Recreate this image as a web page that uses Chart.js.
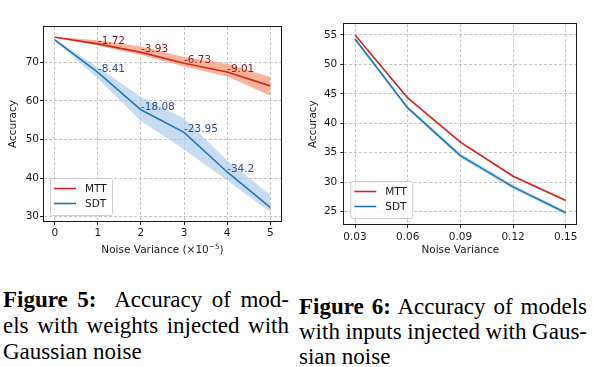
<!DOCTYPE html>
<html>
<head>
<meta charset="utf-8">
<script src="https://cdn.jsdelivr.net/npm/chart.js@4.4.1/dist/chart.umd.min.js"></script>
<style>
  html, body { margin: 0; padding: 0; background: #fff; }
  body { width: 603px; height: 367px; position: relative; overflow: hidden; }
  .plot { position: absolute; top: 0; }
  .cap {
    position: absolute;
    font-family: "Liberation Serif", "Times New Roman", serif;
    font-size: 23px;
    color: #000;
  }
  .cap div { white-space: nowrap; }
  .cap .j { text-align: justify; text-align-last: justify; }
  .cap .tight { word-spacing: -3px; }
  .cap b { font-weight: bold; }
</style>
</head>
<body>
<div class="plot" style="left:0;width:300px;height:265px"><canvas id="weightChart" width="300" height="265"></canvas></div>
<div class="plot" style="left:300px;width:303px;height:265px"><canvas id="inputChart" width="303" height="265"></canvas></div>

<div class="cap" style="left:3px;top:287px;width:286px;line-height:26px">
  <div class="j"><b>Figure 5:</b>&nbsp; Accuracy of mod-</div>
  <div class="j">els with weights injected with</div>
  <div>Gaussian noise</div>
</div>
<div class="cap" style="left:299px;top:294px;width:288px;line-height:25px">
  <div class="j"><b>Figure 6:</b> Accuracy of models</div>
  <div class="j tight">with inputs injected with Gaus-</div>
  <div>sian noise</div>
</div>

<script>
// Figure 5: noise on weights
const weightNoise = [0, 1, 2, 3, 4, 5];
const mttWeight = [76.5, 74.78, 72.57, 69.77, 67.49, 63.9];
const mttWeightHi = [76.6, 75.7, 74.1, 71.4, 69.6, 66.2];
const mttWeightLo = [76.4, 74.3, 71.9, 68.9, 66.3, 61.4];
const sdtWeight = [75.8, 67.39, 57.72, 51.85, 41.6, 32.4];
const sdtWeightHi = [76.0, 68.8, 61.0, 55.5, 44.6, 35.7];
const sdtWeightLo = [75.6, 65.8, 54.8, 47.4, 39.4, 31.2];
const mttDrops = ["", "-1.72", "-3.93", "-6.73", "-9.01", ""];
const sdtDrops = ["", "-8.41", "-18.08", "-23.95", "-34.2", ""];
const weightYTicks = [30, 40, 50, 60, 70];

// Figure 6: noise on inputs
const inputNoise = [0.03, 0.06, 0.09, 0.12, 0.15];
const mttInput = [55.0, 44.3, 36.8, 31.0, 26.9];
const mttInputHi = [55.2, 44.5, 37.0, 31.2, 27.1];
const mttInputLo = [54.8, 44.1, 36.6, 30.8, 26.7];
const sdtInput = [54.3, 42.6, 34.5, 29.2, 24.8];
const sdtInputHi = [54.6, 42.9, 34.9, 29.6, 25.1];
const sdtInputLo = [54.0, 42.3, 34.1, 28.8, 24.5];
const inputYTicks = [25, 30, 35, 40, 45, 50, 55];

const RED = "#d62728";
const BLUE = "#1f77b4";
const FONT = "'DejaVu Sans', sans-serif";
const FSIZE = 10.5;
const INK = "#1a1a1a";

const xy = (xs, ys) => xs.map((x, i) => ({ x, y: ys[i] }));

function seriesSets(xs, mtt, mttHi, mttLo, sdt, sdtHi, sdtLo, mttBand, sdtBand) {
  const line = (label, data, color) => ({
    label, data: xy(xs, data), borderColor: color, borderWidth: 1.6,
    pointRadius: 0, fill: false, tension: 0,
  });
  const band = (data, color, fill) => ({
    data: xy(xs, data), borderWidth: 0, pointRadius: 0, borderColor: "transparent",
    backgroundColor: color, fill, tension: 0,
  });
  return [
    line("SDT", sdt, BLUE),
    line("MTT", mtt, RED),
    band(sdtHi, sdtBand, "+1"),
    band(sdtLo, sdtBand, false),
    band(mttHi, mttBand, "+1"),
    band(mttLo, mttBand, false),
  ];
}

// box round the plot area
const framePlugin = {
  id: "frame",
  afterDatasetsDraw(chart) {
    const { ctx, chartArea: a } = chart;
    ctx.save();
    ctx.strokeStyle = INK;
    ctx.lineWidth = 1;
    ctx.strokeRect(Math.round(a.left) - 0.5, Math.round(a.top) - 0.5,
      Math.round(a.right - a.left) + 1, Math.round(a.bottom - a.top) + 1);
    ctx.restore();
  },
};

// legend inside the lower left corner, like matplotlib
const boxLegend = {
  id: "boxLegend",
  afterDraw(chart) {
    const { ctx, chartArea: a } = chart;
    const items = [["MTT", RED], ["SDT", BLUE]];
    const x = a.left + 6, w = 62, h = 37, y = a.bottom - 6 - h;
    ctx.save();
    ctx.fillStyle = "rgba(255,255,255,0.8)";
    ctx.strokeStyle = "#cccccc";
    ctx.lineWidth = 1;
    ctx.beginPath();
    ctx.roundRect(x + 0.5, y + 0.5, w, h, 2);
    ctx.fill();
    ctx.stroke();
    ctx.font = `${FSIZE}px ${FONT}`;
    ctx.textBaseline = "middle";
    items.forEach(([label, color], i) => {
      const cy = y + 10.5 + i * 15;
      ctx.strokeStyle = color;
      ctx.lineWidth = 1.6;
      ctx.beginPath();
      ctx.moveTo(x + 4, cy);
      ctx.lineTo(x + 26, cy);
      ctx.stroke();
      ctx.fillStyle = INK;
      ctx.fillText(label, x + 35, cy + 0.5);
    });
    ctx.restore();
  },
};

// accuracy drop labels next to the points
const dropLabels = {
  id: "dropLabels",
  afterDatasetsDraw(chart, args, opts) {
    if (!opts.sets) return;
    const { ctx, scales } = chart;
    ctx.save();
    ctx.font = `${FSIZE}px ${FONT}`;
    ctx.textAlign = "left";
    ctx.textBaseline = "alphabetic";
    opts.sets.forEach(({ xs, ys, labels, color }) => {
      ctx.fillStyle = color;
      labels.forEach((t, i) => {
        if (!t) return;
        ctx.fillText(t, scales.x.getPixelForValue(xs[i]), scales.y.getPixelForValue(ys[i]));
      });
    });
    ctx.restore();
  },
};

// x title with a real superscript exponent (matplotlib mathtext look)
const expTitle = {
  id: "expTitle",
  afterDraw(chart, args, opts) {
    if (!opts.parts) return;
    const { ctx, chartArea: a, scales } = chart;
    const big = `${FSIZE}px ${FONT}`;
    const small = `${FSIZE * 0.7}px ${FONT}`;
    ctx.save();
    ctx.textBaseline = "alphabetic";
    ctx.fillStyle = INK;
    const widths = opts.parts.map(([t, sup]) => { ctx.font = sup ? small : big; return ctx.measureText(t).width; });
    const total = widths.reduce((s, w) => s + w, 0);
    let x = (a.left + a.right) / 2 - total / 2;
    const base = scales.x.bottom - opts.bottomPad - 2.5;
    opts.parts.forEach(([t, sup], i) => {
      ctx.font = sup ? small : big;
      ctx.fillText(t, x, sup ? base - 4.5 : base);
      x += widths[i];
    });
    ctx.restore();
  },
};

function makeChart(id, cfg) {
  const tickFont = { family: FONT, size: FSIZE };
  const grid = { color: "#c4c4c4", lineWidth: 1, tickLength: 4, tickColor: INK, tickWidth: 1 };
  return new Chart(document.getElementById(id), {
    type: "line",
    data: { datasets: cfg.datasets },
    options: {
      responsive: false,
      animation: false,
      events: [],
      layout: { padding: cfg.padding },
      plugins: {
        legend: { display: false },
        tooltip: { enabled: false },
        dropLabels: cfg.drops || {},
        expTitle: cfg.expTitle || {},
      },
      scales: {
        x: {
          type: "linear",
          min: cfg.xMin, max: cfg.xMax,
          afterBuildTicks: s => { s.ticks = cfg.xTicks.map(v => ({ value: v })); },
          afterFit: s => { s.height = cfg.xAxisH; },
          ticks: { font: tickFont, color: INK, padding: cfg.xTickPad, maxRotation: 0, callback: cfg.xFmt },
          grid,
          border: { display: false, dash: [3, 2] },
          title: { display: !!cfg.xTitle, text: cfg.xTitle || "", font: tickFont, color: INK, padding: { top: 0, bottom: cfg.xTitlePad } },
        },
        y: {
          type: "linear",
          min: cfg.yMin, max: cfg.yMax,
          afterBuildTicks: s => { s.ticks = cfg.yTicks.map(v => ({ value: v })); },
          afterFit: s => { s.width = cfg.yAxisW; },
          ticks: { font: tickFont, color: INK, padding: cfg.yTickPad, callback: v => String(v) },
          grid,
          border: { display: false, dash: [3, 2] },
          title: { display: true, text: "Accuracy", font: tickFont, color: INK, padding: { top: 7, bottom: 0 } },
        },
      },
    },
    plugins: [framePlugin, dropLabels, boxLegend, expTitle],
  });
}

makeChart("weightChart", {
  datasets: seriesSets(weightNoise, mttWeight, mttWeightHi, mttWeightLo,
    sdtWeight, sdtWeightHi, sdtWeightLo, "rgba(251,160,128,0.8)", "rgba(170,202,233,0.65)"),
  padding: { left: 0, top: 27, right: 19, bottom: 0 },
  xMin: -0.25, xMax: 5.25, xTicks: weightNoise, xFmt: v => String(v),
  yMin: 28.9, yMax: 79.15, yTicks: weightYTicks,
  xAxisH: 44, yAxisW: 44, xTickPad: 1.5, yTickPad: 1,
  expTitle: { parts: [["Noise Variance (×10", false], ["−5", true], [")", false]], bottomPad: 9.4 },
  drops: {
    sets: [
      { xs: weightNoise, ys: mttWeight, labels: mttDrops, color: "#8e1b22" },
      { xs: weightNoise, ys: sdtWeight, labels: sdtDrops, color: "#2a4d8c" },
    ],
  },
});

makeChart("inputChart", {
  datasets: seriesSets(inputNoise, mttInput, mttInputHi, mttInputLo,
    sdtInput, sdtInputHi, sdtInputLo, "rgba(251,160,128,0.5)", "rgba(170,202,233,0.65)"),
  padding: { left: 0, top: 24.3, right: 26.7, bottom: 0 },
  xMin: 0.0239, xMax: 0.156, xTicks: inputNoise, xFmt: v => v.toFixed(2),
  yMin: 22.9, yMax: 56.8, yTicks: inputYTicks,
  xAxisH: 41, yAxisW: 44.3, xTickPad: 2.5, yTickPad: 3,
  xTitle: "Noise Variance", xTitlePad: 8.7,
});
</script>
</body>
</html>
